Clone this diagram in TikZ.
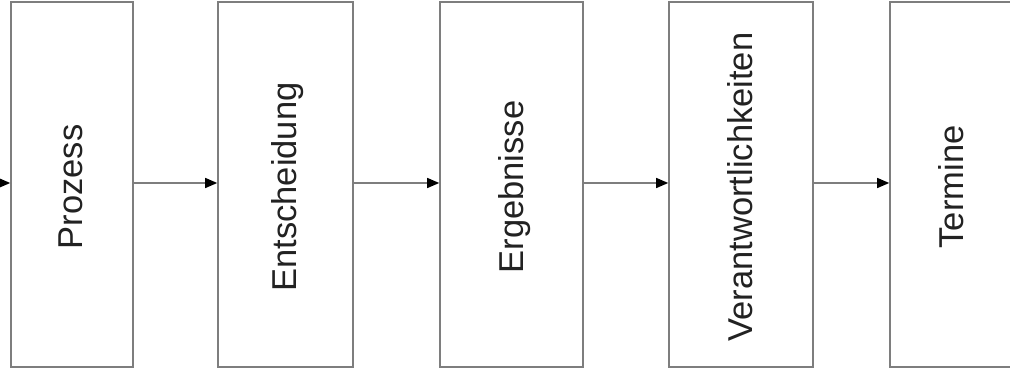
\documentclass[tikz,border=0pt]{standalone}
\usepackage{fontspec}
\setmainfont{Liberation Sans}
\usetikzlibrary{arrows.meta,calc}
\definecolor{edgegray}{HTML}{7E7E7E}
\definecolor{txt}{HTML}{222222}
\begin{document}
\begin{tikzpicture}[x=1pt,y=-1pt,
  stagebox/.style={draw=edgegray,line width=1.6pt,fill=white,minimum height=365pt,inner sep=0pt},
  stagelabel/.style={rotate=90,anchor=base,text=txt,font=\fontsize{34.5}{40}\selectfont,inner sep=0pt},
  flow/.style={draw=edgegray,line width=1.3pt,-{Triangle[length=12pt,width=10pt,color=black]}}]
\useasboundingbox (0,0) rectangle (1010,371);
\node[stagebox,minimum width=122pt] (b1) at (72,184.5) {};
\node[stagebox,minimum width=135pt] (b2) at (285.5,184.5) {};
\node[stagebox,minimum width=143pt] (b3) at (511.5,184.5) {};
\node[stagebox,minimum width=144pt] (b4) at (741,184.5) {};
\node[stagebox,minimum width=140pt] (b5) at (960,184.5) {};
\node[stagelabel] (t1) at (82,187) {Prozess};
\node[stagelabel] (t2) at (296,187) {Entscheidung};
\node[stagelabel] (t3) at (523,187) {Ergebnisse};
\node[stagelabel] (t4) at (752,187) {Verantwortlichkeiten};
\node[stagelabel] (t5) at (963,187) {Termine};
\coordinate (in) at (-20,183);
\draw[flow] (in) -- (in -| b1.west);
\draw[flow] (b1.east |- 0,183) -- (b2.west |- 0,183);
\draw[flow] (b2.east |- 0,183) -- (b3.west |- 0,183);
\draw[flow] (b3.east |- 0,183) -- (b4.west |- 0,183);
\draw[flow] (b4.east |- 0,183) -- (b5.west |- 0,183);
\end{tikzpicture}
\end{document}
